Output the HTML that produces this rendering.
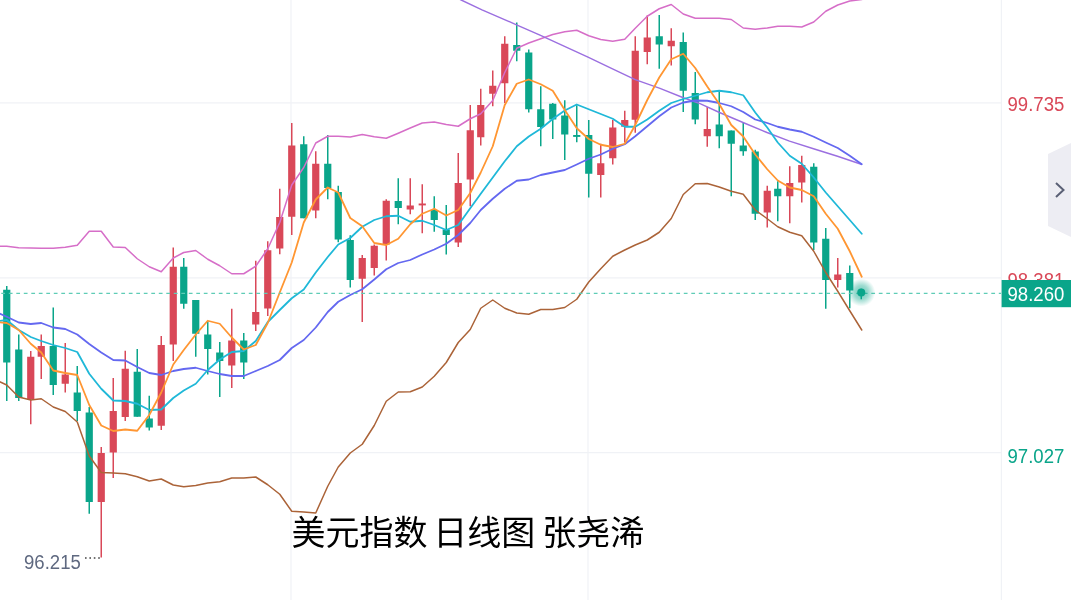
<!DOCTYPE html>
<html lang="zh"><head><meta charset="utf-8"><title>美元指数 日线图</title>
<style>
html,body{margin:0;padding:0;background:#fff;}
body{width:1071px;height:600px;overflow:hidden;position:relative;font-family:"Liberation Sans","Noto Sans CJK SC",sans-serif;}
svg{position:absolute;left:0;top:0;display:block;}
.ax{font-family:"Liberation Sans",sans-serif;font-size:19.4px;}
.title{font-family:"Liberation Sans","Noto Sans CJK SC",sans-serif;font-size:34px;fill:#000;}
</style></head><body>
<svg width="1071" height="600" viewBox="0 0 1071 600">
<defs><radialGradient id="glow"><stop offset="0" stop-color="#0aa58a" stop-opacity="0.6"/><stop offset="0.5" stop-color="#0aa58a" stop-opacity="0.4"/><stop offset="1" stop-color="#0aa58a" stop-opacity="0"/></radialGradient></defs>
<rect width="1071" height="600" fill="#fff"/>
<g stroke="#f0f2f6" stroke-width="1.2">
<line x1="0" y1="102.9" x2="1001" y2="102.9"/>
<line x1="0" y1="277.9" x2="1001" y2="277.9"/>
<line x1="0" y1="452.6" x2="1001" y2="452.6"/>
<line x1="291" y1="0" x2="291" y2="600"/>
<line x1="588" y1="0" x2="588" y2="600"/>
<line x1="1001.4" y1="0" x2="1001.4" y2="600"/>
</g>

<g>
<rect x="6.00" y="286.0" width="1.5" height="115.00" fill="#0aa58a"/>
<rect x="3.15" y="289.75" width="7.2" height="72.75" fill="#0aa58a"/>
<rect x="18.00" y="334.5" width="1.5" height="66.50" fill="#0aa58a"/>
<rect x="15.15" y="349.5" width="7.2" height="48.50" fill="#0aa58a"/>
<rect x="30.00" y="351.0" width="1.5" height="73.25" fill="#d94858"/>
<rect x="27.15" y="356.75" width="7.2" height="42.25" fill="#d94858"/>
<rect x="40.50" y="334.5" width="1.5" height="44.50" fill="#d94858"/>
<rect x="37.65" y="346.0" width="7.2" height="10.75" fill="#d94858"/>
<rect x="52.50" y="307.5" width="1.5" height="87.50" fill="#0aa58a"/>
<rect x="49.65" y="346.0" width="7.2" height="39.00" fill="#0aa58a"/>
<rect x="64.50" y="343.0" width="1.5" height="49.50" fill="#d94858"/>
<rect x="61.65" y="374.5" width="7.2" height="9.25" fill="#d94858"/>
<rect x="76.50" y="366.0" width="1.5" height="55.00" fill="#0aa58a"/>
<rect x="73.65" y="392.5" width="7.2" height="18.50" fill="#0aa58a"/>
<rect x="88.50" y="407.0" width="1.5" height="106.75" fill="#0aa58a"/>
<rect x="85.65" y="412.5" width="7.2" height="89.50" fill="#0aa58a"/>
<rect x="100.50" y="447.0" width="1.5" height="110.50" fill="#d94858"/>
<rect x="97.65" y="453.0" width="7.2" height="49.00" fill="#d94858"/>
<rect x="112.50" y="378.0" width="1.5" height="100.00" fill="#d94858"/>
<rect x="109.65" y="411.0" width="7.2" height="41.50" fill="#d94858"/>
<rect x="124.50" y="350.75" width="1.5" height="70.25" fill="#d94858"/>
<rect x="121.65" y="368.75" width="7.2" height="48.25" fill="#d94858"/>
<rect x="136.50" y="349.0" width="1.5" height="67.75" fill="#0aa58a"/>
<rect x="133.65" y="371.75" width="7.2" height="45.00" fill="#0aa58a"/>
<rect x="148.50" y="395.75" width="1.5" height="34.75" fill="#0aa58a"/>
<rect x="145.65" y="418.5" width="7.2" height="9.00" fill="#0aa58a"/>
<rect x="160.50" y="336.0" width="1.5" height="94.00" fill="#d94858"/>
<rect x="157.65" y="345.0" width="7.2" height="80.75" fill="#d94858"/>
<rect x="172.50" y="247.5" width="1.5" height="113.50" fill="#d94858"/>
<rect x="169.65" y="266.75" width="7.2" height="77.75" fill="#d94858"/>
<rect x="183.00" y="258.0" width="1.5" height="50.75" fill="#0aa58a"/>
<rect x="180.15" y="266.75" width="7.2" height="37.00" fill="#0aa58a"/>
<rect x="195.00" y="300.0" width="1.5" height="56.75" fill="#0aa58a"/>
<rect x="192.15" y="300.0" width="7.2" height="33.75" fill="#0aa58a"/>
<rect x="207.00" y="321.0" width="1.5" height="53.50" fill="#0aa58a"/>
<rect x="204.15" y="334.5" width="7.2" height="14.50" fill="#0aa58a"/>
<rect x="219.00" y="342.0" width="1.5" height="55.00" fill="#0aa58a"/>
<rect x="216.15" y="352.5" width="7.2" height="8.50" fill="#0aa58a"/>
<rect x="231.00" y="308.75" width="1.5" height="79.25" fill="#d94858"/>
<rect x="228.15" y="340.5" width="7.2" height="25.00" fill="#d94858"/>
<rect x="243.00" y="333.0" width="1.5" height="46.00" fill="#0aa58a"/>
<rect x="240.15" y="340.5" width="7.2" height="22.00" fill="#0aa58a"/>
<rect x="255.00" y="260.75" width="1.5" height="70.25" fill="#d94858"/>
<rect x="252.15" y="312.0" width="7.2" height="12.50" fill="#d94858"/>
<rect x="267.00" y="241.25" width="1.5" height="74.75" fill="#d94858"/>
<rect x="264.15" y="250.25" width="7.2" height="58.25" fill="#d94858"/>
<rect x="279.00" y="188.75" width="1.5" height="65.50" fill="#d94858"/>
<rect x="276.15" y="217.0" width="7.2" height="31.50" fill="#d94858"/>
<rect x="291.00" y="123.0" width="1.5" height="112.00" fill="#d94858"/>
<rect x="288.15" y="145.5" width="7.2" height="71.25" fill="#d94858"/>
<rect x="303.00" y="136.25" width="1.5" height="82.00" fill="#0aa58a"/>
<rect x="300.15" y="144.25" width="7.2" height="74.00" fill="#0aa58a"/>
<rect x="315.00" y="151.25" width="1.5" height="67.00" fill="#d94858"/>
<rect x="312.15" y="163.75" width="7.2" height="46.75" fill="#d94858"/>
<rect x="327.00" y="135.0" width="1.5" height="64.25" fill="#0aa58a"/>
<rect x="324.15" y="163.75" width="7.2" height="24.25" fill="#0aa58a"/>
<rect x="337.50" y="185.75" width="1.5" height="56.50" fill="#0aa58a"/>
<rect x="334.65" y="192.0" width="7.2" height="47.50" fill="#0aa58a"/>
<rect x="349.50" y="235.25" width="1.5" height="52.25" fill="#0aa58a"/>
<rect x="346.65" y="240.0" width="7.2" height="40.00" fill="#0aa58a"/>
<rect x="361.50" y="255.0" width="1.5" height="67.00" fill="#d94858"/>
<rect x="358.65" y="258.0" width="7.2" height="20.75" fill="#d94858"/>
<rect x="373.50" y="244.5" width="1.5" height="31.00" fill="#d94858"/>
<rect x="370.65" y="245.75" width="7.2" height="22.25" fill="#d94858"/>
<rect x="385.50" y="199.25" width="1.5" height="61.25" fill="#d94858"/>
<rect x="382.65" y="200.75" width="7.2" height="43.75" fill="#d94858"/>
<rect x="397.50" y="178.25" width="1.5" height="46.00" fill="#0aa58a"/>
<rect x="394.65" y="201.0" width="7.2" height="7.00" fill="#0aa58a"/>
<rect x="409.50" y="178.25" width="1.5" height="36.00" fill="#d94858"/>
<rect x="406.65" y="205.5" width="7.2" height="4.00" fill="#d94858"/>
<rect x="421.50" y="184.25" width="1.5" height="49.00" fill="#d94858"/>
<rect x="418.65" y="203.5" width="7.2" height="1.90" fill="#d94858"/>
<rect x="433.50" y="196.25" width="1.5" height="35.50" fill="#0aa58a"/>
<rect x="430.65" y="210.0" width="7.2" height="10.00" fill="#0aa58a"/>
<rect x="445.50" y="205.0" width="1.5" height="49.50" fill="#0aa58a"/>
<rect x="442.65" y="229.5" width="7.2" height="5.50" fill="#0aa58a"/>
<rect x="457.50" y="153.0" width="1.5" height="94.00" fill="#d94858"/>
<rect x="454.65" y="183.0" width="7.2" height="59.50" fill="#d94858"/>
<rect x="469.50" y="105.0" width="1.5" height="101.25" fill="#d94858"/>
<rect x="466.65" y="130.25" width="7.2" height="49.25" fill="#d94858"/>
<rect x="480.00" y="88.75" width="1.5" height="56.75" fill="#d94858"/>
<rect x="477.15" y="105.0" width="7.2" height="32.25" fill="#d94858"/>
<rect x="492.00" y="70.5" width="1.5" height="35.75" fill="#d94858"/>
<rect x="489.15" y="85.75" width="7.2" height="8.00" fill="#d94858"/>
<rect x="504.00" y="36.25" width="1.5" height="66.75" fill="#d94858"/>
<rect x="501.15" y="43.75" width="7.2" height="39.50" fill="#d94858"/>
<rect x="516.00" y="22.5" width="1.5" height="38.75" fill="#0aa58a"/>
<rect x="513.15" y="45.0" width="7.2" height="5.75" fill="#0aa58a"/>
<rect x="528.00" y="49.5" width="1.5" height="63.00" fill="#0aa58a"/>
<rect x="525.15" y="52.5" width="7.2" height="56.75" fill="#0aa58a"/>
<rect x="540.00" y="86.25" width="1.5" height="60.00" fill="#0aa58a"/>
<rect x="537.15" y="109.25" width="7.2" height="17.75" fill="#0aa58a"/>
<rect x="552.00" y="103.0" width="1.5" height="36.00" fill="#0aa58a"/>
<rect x="549.15" y="103.75" width="7.2" height="15.75" fill="#0aa58a"/>
<rect x="564.00" y="100.25" width="1.5" height="59.75" fill="#0aa58a"/>
<rect x="561.15" y="115.5" width="7.2" height="19.00" fill="#0aa58a"/>
<rect x="576.00" y="105.25" width="1.5" height="37.00" fill="#0aa58a"/>
<rect x="573.15" y="135.0" width="7.2" height="1.90" fill="#0aa58a"/>
<rect x="588.00" y="120.0" width="1.5" height="77.50" fill="#0aa58a"/>
<rect x="585.15" y="135.0" width="7.2" height="38.75" fill="#0aa58a"/>
<rect x="600.00" y="143.75" width="1.5" height="53.75" fill="#d94858"/>
<rect x="597.15" y="163.25" width="7.2" height="11.75" fill="#d94858"/>
<rect x="612.00" y="120.0" width="1.5" height="44.50" fill="#d94858"/>
<rect x="609.15" y="127.5" width="7.2" height="30.75" fill="#d94858"/>
<rect x="624.00" y="110.75" width="1.5" height="31.75" fill="#d94858"/>
<rect x="621.15" y="120.0" width="7.2" height="6.75" fill="#d94858"/>
<rect x="634.50" y="36.25" width="1.5" height="96.50" fill="#d94858"/>
<rect x="631.65" y="50.75" width="7.2" height="69.00" fill="#d94858"/>
<rect x="646.50" y="15.5" width="1.5" height="48.75" fill="#d94858"/>
<rect x="643.65" y="37.5" width="7.2" height="14.50" fill="#d94858"/>
<rect x="658.50" y="15.0" width="1.5" height="53.75" fill="#0aa58a"/>
<rect x="655.65" y="36.25" width="7.2" height="8.25" fill="#0aa58a"/>
<rect x="670.50" y="28.25" width="1.5" height="37.25" fill="#d94858"/>
<rect x="667.65" y="40.75" width="7.2" height="5.50" fill="#d94858"/>
<rect x="682.50" y="32.5" width="1.5" height="79.50" fill="#0aa58a"/>
<rect x="679.65" y="42.0" width="7.2" height="48.75" fill="#0aa58a"/>
<rect x="694.50" y="72.0" width="1.5" height="52.25" fill="#0aa58a"/>
<rect x="691.65" y="93.0" width="7.2" height="26.50" fill="#0aa58a"/>
<rect x="706.50" y="107.0" width="1.5" height="39.75" fill="#d94858"/>
<rect x="703.65" y="129.0" width="7.2" height="7.25" fill="#d94858"/>
<rect x="718.50" y="91.25" width="1.5" height="57.00" fill="#0aa58a"/>
<rect x="715.65" y="124.5" width="7.2" height="11.75" fill="#0aa58a"/>
<rect x="730.50" y="130.5" width="1.5" height="65.75" fill="#0aa58a"/>
<rect x="727.65" y="130.5" width="7.2" height="13.25" fill="#0aa58a"/>
<rect x="742.50" y="123.0" width="1.5" height="32.75" fill="#0aa58a"/>
<rect x="739.65" y="145.5" width="7.2" height="5.75" fill="#0aa58a"/>
<rect x="754.50" y="149.75" width="1.5" height="70.25" fill="#0aa58a"/>
<rect x="751.65" y="151.5" width="7.2" height="62.25" fill="#0aa58a"/>
<rect x="766.50" y="185.75" width="1.5" height="41.75" fill="#d94858"/>
<rect x="763.65" y="190.75" width="7.2" height="21.75" fill="#d94858"/>
<rect x="777.00" y="181.25" width="1.5" height="40.00" fill="#0aa58a"/>
<rect x="774.15" y="188.75" width="7.2" height="7.50" fill="#0aa58a"/>
<rect x="789.00" y="166.25" width="1.5" height="57.00" fill="#d94858"/>
<rect x="786.15" y="183.0" width="7.2" height="13.25" fill="#d94858"/>
<rect x="801.00" y="155.75" width="1.5" height="46.75" fill="#d94858"/>
<rect x="798.15" y="165.0" width="7.2" height="17.50" fill="#d94858"/>
<rect x="813.00" y="163.25" width="1.5" height="86.75" fill="#0aa58a"/>
<rect x="810.15" y="166.75" width="7.2" height="75.75" fill="#0aa58a"/>
<rect x="825.00" y="228.0" width="1.5" height="80.75" fill="#0aa58a"/>
<rect x="822.15" y="238.75" width="7.2" height="41.25" fill="#0aa58a"/>
<rect x="837.00" y="258.0" width="1.5" height="29.50" fill="#d94858"/>
<rect x="834.15" y="274.5" width="7.2" height="5.50" fill="#d94858"/>
<rect x="849.00" y="265.5" width="1.5" height="42.75" fill="#0aa58a"/>
<rect x="846.15" y="273.0" width="7.2" height="17.50" fill="#0aa58a"/>
</g>
<polyline points="-5.25,246.25 6.75,246.25 18.75,247.75 30.75,248.00 41.25,248.25 53.25,248.25 65.25,247.25 77.25,245.25 89.25,231.25 101.25,231.25 113.25,247.00 125.25,247.50 137.25,258.75 149.25,266.75 161.25,271.75 173.25,258.00 183.75,252.50 195.75,250.50 207.75,259.25 219.75,265.75 231.75,273.75 243.75,273.75 255.75,266.25 267.75,248.75 279.75,222.50 291.75,185.00 303.75,167.50 315.75,143.00 327.75,136.25 338.25,136.25 350.25,137.00 362.25,134.50 374.25,136.75 386.25,138.25 398.25,133.25 410.25,128.00 422.25,123.00 434.25,122.00 446.25,124.50 458.25,126.25 470.25,118.75 480.75,113.75 492.75,100.50 504.75,72.50 516.75,48.25 528.75,43.00 540.75,38.75 552.75,34.50 564.75,31.75 576.75,30.25 588.75,35.75 600.75,39.50 612.75,41.25 624.75,39.25 635.25,28.25 647.25,16.25 659.25,8.75 671.25,4.50 683.25,14.00 695.25,18.25 707.25,18.25 719.25,18.25 731.25,19.50 743.25,28.00 755.25,29.25 767.25,28.00 777.75,26.25 789.75,26.25 801.75,27.00 813.75,22.00 825.75,11.25 837.75,5.00 849.75,1.00 861.75,-0.50" fill="none" stroke="#d66ec8" stroke-width="1.5" stroke-linejoin="round" stroke-linecap="round"/>
<polyline points="-5.25,379.50 6.75,385.00 18.75,397.00 30.75,400.00 41.25,398.75 53.25,407.00 65.25,411.50 77.25,422.00 89.25,456.00 101.25,472.50 113.25,473.00 125.25,473.75 137.25,476.75 149.25,481.00 161.25,479.00 173.25,485.00 183.75,486.75 195.75,485.50 207.75,483.00 219.75,481.75 231.75,478.00 243.75,478.00 255.75,477.00 267.75,484.75 279.75,494.25 291.75,511.25 303.75,512.00 315.75,513.00 327.75,486.25 338.25,467.00 350.25,453.00 362.25,444.25 374.25,425.50 386.25,401.25 398.25,392.00 410.25,391.75 422.25,387.00 434.25,376.25 446.25,362.50 458.25,342.50 470.25,329.50 480.75,308.25 492.75,300.00 504.75,308.25 516.75,313.00 528.75,314.25 540.75,309.50 552.75,309.50 564.75,307.50 576.75,299.25 588.75,282.00 600.75,268.75 612.75,256.25 624.75,250.00 635.25,245.00 647.25,240.00 659.25,232.25 671.25,218.50 683.25,194.50 695.25,183.75 707.25,183.50 719.25,187.00 731.25,191.25 743.25,194.25 755.25,210.00 767.25,218.75 777.75,226.75 789.75,232.25 801.75,235.75 813.75,251.25 825.75,272.50 837.75,291.25 849.75,310.75 861.75,330.00" fill="none" stroke="#ab6338" stroke-width="1.5" stroke-linejoin="round" stroke-linecap="round"/>
<polyline points="440.00,-10.20 461.25,0.00 482.00,9.80 516.50,24.80 540.00,35.20 588.00,57.20 612.00,68.70 635.20,79.70 660.00,88.30 684.00,98.00 700.00,103.70 719.50,112.50 743.00,122.50 767.00,132.50 789.50,141.20 813.50,148.75 837.50,156.25 861.25,164.25" fill="none" stroke="#9b6fe0" stroke-width="1.4" stroke-linejoin="round" stroke-linecap="round"/>
<polyline points="-5.25,311.50 6.75,316.75 18.75,322.50 30.75,324.00 41.25,323.00 53.25,327.50 65.25,329.00 77.25,334.50 89.25,344.00 101.25,352.50 113.25,360.00 125.25,360.50 137.25,367.00 149.25,373.00 161.25,375.00 173.25,371.00 183.75,369.00 195.75,367.75 207.75,371.00 219.75,374.00 231.75,376.00 243.75,376.00 255.75,371.00 267.75,366.00 279.75,360.00 291.75,348.00 303.75,340.00 315.75,327.50 327.75,312.00 338.25,301.75 350.25,295.00 362.25,289.25 374.25,279.50 386.25,269.25 398.25,263.00 410.25,260.00 422.25,254.50 434.25,249.50 446.25,243.75 458.25,235.00 470.25,223.00 480.75,210.00 492.75,198.75 504.75,188.75 516.75,180.75 528.75,179.50 540.75,175.00 552.75,172.50 564.75,170.00 576.75,164.50 588.75,158.75 600.75,154.50 612.75,148.75 624.75,144.25 635.25,136.25 647.25,126.25 659.25,116.25 671.25,107.50 683.25,102.50 695.25,100.50 707.25,100.75 719.25,103.00 731.25,106.25 743.25,112.00 755.25,119.50 767.25,123.00 777.75,126.75 789.75,129.50 801.75,131.75 813.75,136.75 825.75,142.50 837.75,148.00 849.75,155.75 861.75,164.25" fill="none" stroke="#6468f0" stroke-width="1.8" stroke-linejoin="round" stroke-linecap="round"/>
<polyline points="-5.25,321.50 6.75,320.00 18.75,330.00 30.75,337.00 41.25,341.00 53.25,345.00 65.25,348.00 77.25,352.00 89.25,373.75 101.25,388.75 113.25,400.50 125.25,401.00 137.25,403.75 149.25,410.00 161.25,409.50 173.25,398.00 183.75,390.50 195.75,383.75 207.75,370.00 219.75,359.50 231.75,352.00 243.75,351.00 255.75,341.00 267.75,322.00 279.75,310.00 291.75,298.25 303.75,289.50 315.75,272.50 327.75,257.00 338.25,244.50 350.25,238.00 362.25,226.75 374.25,220.00 386.25,216.25 398.25,215.75 410.25,221.75 422.25,220.75 434.25,225.00 446.25,230.00 458.25,225.00 470.25,208.25 480.75,193.75 492.75,177.50 504.75,161.25 516.75,146.25 528.75,136.50 540.75,128.75 552.75,119.00 564.75,110.50 576.75,104.50 588.75,109.25 600.75,114.00 612.75,118.75 624.75,126.75 635.25,126.75 647.25,119.50 659.25,110.75 671.25,103.00 683.25,99.00 695.25,95.75 707.25,92.25 719.25,90.75 731.25,92.25 743.25,95.25 755.25,112.50 767.25,127.50 777.75,142.50 789.75,155.75 801.75,163.75 813.75,177.50 825.75,192.50 837.75,206.25 849.75,220.00 861.75,233.75" fill="none" stroke="#1fb8d8" stroke-width="1.8" stroke-linejoin="round" stroke-linecap="round"/>
<polyline points="-5.25,322.00 6.75,323.00 18.75,330.00 30.75,343.75 41.25,352.50 53.25,370.50 65.25,373.00 77.25,375.00 89.25,405.00 101.25,425.50 113.25,431.00 125.25,429.50 137.25,430.75 149.25,415.00 161.25,392.50 173.25,364.50 183.75,350.00 195.75,334.50 207.75,320.75 219.75,323.75 231.75,337.50 243.75,349.50 255.75,345.00 267.75,323.00 279.75,292.50 291.75,262.50 303.75,222.50 315.75,199.50 327.75,187.50 338.25,192.50 350.25,218.00 362.25,226.25 374.25,243.00 386.25,245.00 398.25,238.75 410.25,224.25 422.25,213.75 434.25,208.75 446.25,215.50 458.25,210.00 470.25,193.00 480.75,172.50 492.75,146.25 504.75,105.00 516.75,83.75 528.75,79.50 540.75,84.25 552.75,90.75 564.75,110.00 576.75,128.25 588.75,139.00 600.75,144.75 612.75,147.00 624.75,143.75 635.25,125.00 647.25,100.00 659.25,77.50 671.25,59.25 683.25,53.75 695.25,68.00 707.25,86.50 719.25,104.00 731.25,125.00 743.25,136.50 755.25,154.50 767.25,169.25 777.75,180.50 789.75,187.50 801.75,190.00 813.75,196.25 825.75,213.75 837.75,228.75 849.75,251.25 861.75,276.75" fill="none" stroke="#ff9632" stroke-width="1.8" stroke-linejoin="round" stroke-linecap="round"/>

<line x1="0" y1="293.4" x2="1001" y2="293.4" stroke="#5fccb6" stroke-width="1.4" stroke-dasharray="3.75 3.75" stroke-dashoffset="6.2"/>
<circle cx="861.25" cy="292.5" r="14" fill="url(#glow)"/>
<rect x="860.5" y="288.75" width="1.5" height="10.5" fill="#0aa58a"/>
<circle cx="861.25" cy="292.5" r="4" fill="#0aa58a"/>
<text class="ax" transform="translate(1007.5,110.6) scale(0.958,1)" fill="#d94858">99.735</text>
<text class="ax" transform="translate(1007.5,286.8) scale(0.958,1)" fill="#d94858">98.381</text>
<text class="ax" transform="translate(1007.5,462.7) scale(0.958,1)" fill="#0aa58a">97.027</text>
<rect x="1001.6" y="280" width="70" height="27.2" fill="#0aa58a"/>
<text class="ax" transform="translate(1007.5,300.6) scale(0.958,1)" fill="#fff">98.260</text>
<polygon points="1048,154 1071,143 1071,237 1048,226" fill="#ededf3"/>
<polyline points="1056,183 1063.5,190 1056,197" fill="none" stroke="#5a6075" stroke-width="2"/>
<text class="ax" transform="translate(24.0,568.7) scale(0.958,1)" fill="#5f6980">96.215</text>
<line x1="85" y1="557.9" x2="101" y2="557.9" stroke="#444" stroke-width="1.5" stroke-dasharray="1.6 2.8"/>
<text class="title" y="544.7"><tspan x="291.5">美元指数 </tspan><tspan x="433.3">日线图 </tspan><tspan x="542.3">张尧浠</tspan></text>
</svg>
</body></html>
